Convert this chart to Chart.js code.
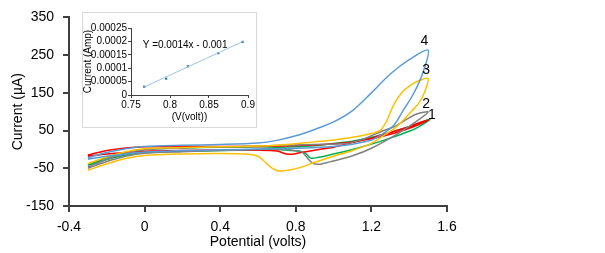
<!DOCTYPE html>
<html lang="en">
<head>
    <meta charset="UTF-8">
    <title>Cyclic voltammograms</title>
    <script src="https://cdnjs.cloudflare.com/ajax/libs/Chart.js/4.4.1/chart.umd.min.js"></script>
    <style>
        body { margin: 0; background: #fff; }
        .wrap { position: relative; width: 605px; height: 253px; }
        #mainChart { position: absolute; left: 0; top: 0; }
        .inset {
            position: absolute; left: 82px; top: 12px;
            width: 175px; height: 116px;
            box-sizing: border-box;
            border: 1px solid #d9d9d9;
            background: #fff;
        }
        #insetChart { position: absolute; left: 0; top: 0; }
    </style>
</head>
<body>
    <div class="wrap">
        <canvas id="mainChart" width="605" height="253"></canvas>
        <div class="inset">
            <canvas id="insetChart" width="173" height="114"></canvas>
        </div>
    </div>

    <script>
        // main plot: potential (V) vs current (uA), each curve is one closed sweep
        const blueV = [-0.3, -0.2, -0.1, 0, 0.2, 0.4, 0.6, 0.7, 0.8, 0.9, 1.0, 1.1, 1.2, 1.3, 1.4, 1.5,
            1.47, 1.42, 1.37, 1.32, 1.25, 1.2, 1.1, 1.0, 0.8, 0.6, 0.4, 0.2, 0, -0.1, -0.2, -0.3];
        const blueI = [-22, -8, 2, 8, 11, 13, 17, 24, 36, 53, 73, 103, 150, 200, 238, 263,
            200, 145, 105, 65, 38, 25, 14, 8, 3, 1, -1, -3, -7, -12, -18, -26];

        const yellowV = [-0.3, -0.2, -0.1, 0, 0.2, 0.4, 0.6, 0.7, 0.8, 0.9, 1.0, 1.1, 1.2, 1.25, 1.28, 1.32, 1.36, 1.4, 1.45, 1.5,
            1.48, 1.45, 1.41, 1.37, 1.32, 1.25, 1.2, 1.1, 1.0, 0.9, 0.83, 0.76, 0.71, 0.67, 0.63, 0.6, 0.55, 0.4, 0.2, 0, -0.1, -0.2, -0.3];
        const yellowI = [-38, -20, -6, 2, 5, 7, 9, 11, 15, 20, 25, 32, 42, 52, 75, 120, 150, 168, 182, 188,
            150, 122, 100, 78, 55, 32, 16, -3, -18, -34, -47, -55, -57, -48, -30, -18, -13, -11, -12, -16, -24, -38, -55];

        const grayV = [-0.3, -0.2, -0.1, 0, 0.2, 0.4, 0.6, 0.72, 0.9, 1.07, 1.15, 1.25, 1.32, 1.39, 1.44, 1.5,
            1.44, 1.34, 1.2, 1.1, 0.98, 0.93, 0.89, 0.86, 0.83, 0.78, 0.72, 0.6, 0.4, 0.2, 0, -0.1, -0.2, -0.3];
        const grayI = [-46, -26, -10, -1, 4, 7, 9, 11, 13, 16, 26, 47, 60, 81, 94, 99,
            75, 42, 3, -17, -33, -39, -37, -22, -6, -2, 1, 0, -3, -6, -10, -18, -32, -50];

        const redV = [-0.3, -0.2, -0.1, 0, 0.2, 0.4, 0.6, 0.72, 0.9, 1.0, 1.1, 1.2, 1.3, 1.4, 1.5,
            1.45, 1.4, 1.3, 1.25, 1.2, 1.1, 1.0, 0.9, 0.82, 0.79, 0.76, 0.73, 0.7, 0.6, 0.4, 0.2, 0, -0.1, -0.2, -0.3];
        const redI = [-15, -3, 4, 7, 8, 8, 8, 9, 12, 15, 20, 28, 40, 56, 78,
            70, 60, 45, 38, 30, 18, 6, -2, -9, -12, -13, -9, -4, -2, -2, -3, -5, -8, -12, -18];

        const greenV = [-0.3, -0.2, -0.1, 0, 0.2, 0.4, 0.6, 0.72, 0.9, 1.0, 1.1, 1.2, 1.3, 1.4, 1.51,
            1.45, 1.4, 1.3, 1.2, 1.1, 1.0, 0.92, 0.88, 0.85, 0.82, 0.78, 0.72, 0.6, 0.4, 0.2, 0, -0.1, -0.2, -0.3];
        const greenI = [-40, -22, -8, 0, 4, 6, 7, 6, 10, 16, 22, 32, 45, 60, 80,
            60, 48, 30, 14, 0, -12, -21, -23, -10, -5, -3, -1, -1, -3, -5, -8, -15, -27, -42];

        // curve numbers written next to the right end of the sweeps
        const curveLabels = ['4', '3', '2', '1'];
        const labelV = [1.481, 1.49, 1.49, 1.52];
        const labelI = [288, 210, 120, 91];

        // inset: peak current vs peak potential
        const insetV = [0.767, 0.795, 0.823, 0.862, 0.893];
        const insetI = [0.000031, 0.000061, 0.000107, 0.000156, 0.000198];
        const trendV = [0.767, 0.893];
        const trendI = [0.000030, 0.000199];
        const equationText = 'Y =0.0014x - 0.001';

        const FONT = "'Liberation Sans', Arial, sans-serif";
        const AXIS = '#404040';

        function pts(xs, ys) {
            return xs.map((x, i) => ({ x: x, y: ys[i] }));
        }

        function sweep(xs, ys, color) {
            return {
                data: pts(xs, ys),
                showLine: true,
                borderColor: color,
                borderWidth: 1.5,
                pointRadius: 0,
                tension: 0.3,
                fill: false
            };
        }

        const curveNumbers = {
            id: 'curveNumbers',
            afterDatasetsDraw(chart) {
                const { ctx, scales: { x, y } } = chart;
                ctx.save();
                ctx.fillStyle = '#000';
                ctx.font = '14px ' + FONT;
                ctx.textAlign = 'center';
                ctx.textBaseline = 'middle';
                curveLabels.forEach((t, i) => {
                    ctx.fillText(t, x.getPixelForValue(labelV[i]), y.getPixelForValue(labelI[i]));
                });
                ctx.restore();
            }
        };

        new Chart(document.getElementById('mainChart'), {
            type: 'scatter',
            data: {
                datasets: [
                    sweep(blueV, blueI, '#5b9bd5'),
                    sweep(yellowV, yellowI, '#ffc000'),
                    sweep(grayV, grayI, '#808080'),
                    sweep(redV, redI, '#ff0000'),
                    sweep(greenV, greenI, '#00b050')
                ]
            },
            options: {
                responsive: false,
                animation: false,
                layout: { padding: { left: 0, right: 158, top: 13, bottom: 0 } },
                plugins: { legend: { display: false }, tooltip: { enabled: false } },
                scales: {
                    x: {
                        type: 'linear',
                        min: -0.4,
                        max: 1.6,
                        afterFit: s => { s.height = 47; },
                        ticks: {
                            stepSize: 0.4,
                            autoSkip: false,
                            padding: 7,
                            color: '#000',
                            font: { family: FONT, size: 14 },
                            callback: v => String(Math.round(v * 10) / 10)
                        },
                        grid: { drawOnChartArea: false, drawTicks: true, tickLength: 6, color: AXIS, lineWidth: 2 },
                        border: { display: true, color: AXIS, width: 2 },
                        title: {
                            display: true,
                            text: 'Potential (volts)',
                            color: '#000',
                            font: { family: FONT, size: 14 },
                            padding: { top: 0, bottom: 2 }
                        }
                    },
                    y: {
                        min: -150,
                        max: 350,
                        afterFit: s => { s.width = 69; },
                        ticks: {
                            stepSize: 100,
                            autoSkip: false,
                            padding: 9,
                            color: '#000',
                            font: { family: FONT, size: 14 }
                        },
                        grid: { drawOnChartArea: false, drawTicks: true, tickLength: 6, color: AXIS, lineWidth: 2 },
                        border: { display: true, color: AXIS, width: 2 },
                        title: {
                            display: true,
                            text: 'Current (µA)',
                            color: '#000',
                            font: { family: FONT, size: 14 },
                            padding: { top: 10, bottom: 0 }
                        }
                    }
                }
            },
            plugins: [curveNumbers]
        });

        const equationLabel = {
            id: 'equationLabel',
            afterDatasetsDraw(chart) {
                const { ctx, scales: { x, y } } = chart;
                ctx.save();
                ctx.fillStyle = '#000';
                ctx.font = '10px ' + FONT;
                ctx.textAlign = 'left';
                ctx.textBaseline = 'middle';
                ctx.fillText(equationText, x.getPixelForValue(0.765), y.getPixelForValue(0.000187));
                ctx.restore();
            }
        };

        new Chart(document.getElementById('insetChart'), {
            type: 'scatter',
            data: {
                datasets: [{
                    data: pts(trendV, trendI),
                    showLine: true,
                    borderColor: '#9dc3e6',
                    borderWidth: 1,
                    pointRadius: 0
                }, {
                    data: pts(insetV, insetI),
                    showLine: false,
                    pointRadius: 1.6,
                    pointStyle: 'rect',
                    backgroundColor: '#2e75b6',
                    borderColor: '#2e75b6',
                    borderWidth: 0
                }]
            },
            options: {
                responsive: false,
                animation: false,
                layout: { padding: { left: 0, right: 8, top: 15, bottom: 0 } },
                plugins: { legend: { display: false }, tooltip: { enabled: false } },
                scales: {
                    x: {
                        type: 'linear',
                        min: 0.75,
                        max: 0.9,
                        afterFit: s => { s.height = 32; },
                        ticks: {
                            stepSize: 0.05,
                            autoSkip: false,
                            maxRotation: 0,
                            padding: 1,
                            color: '#000',
                            font: { family: FONT, size: 10 },
                            callback: v => String(+v.toFixed(2))
                        },
                        grid: { drawOnChartArea: false, drawTicks: true, tickLength: 3, color: AXIS, lineWidth: 1 },
                        border: { display: true, color: AXIS, width: 1 },
                        title: {
                            display: true,
                            text: '(V(volt))',
                            color: '#000',
                            font: { family: FONT, size: 10, lineHeight: 1 },
                            padding: { top: 0, bottom: 5 }
                        }
                    },
                    y: {
                        min: 0,
                        max: 0.00025,
                        afterFit: s => { s.width = 48; },
                        ticks: {
                            stepSize: 0.00005,
                            autoSkip: false,
                            padding: 1,
                            color: '#000',
                            font: { family: FONT, size: 10 },
                            callback: v => String(+v.toFixed(5))
                        },
                        grid: { drawOnChartArea: false, drawTicks: true, tickLength: 3, color: AXIS, lineWidth: 1 },
                        border: { display: true, color: AXIS, width: 1 },
                        title: {
                            display: true,
                            text: 'Current (Amp)',
                            color: '#000',
                            font: { family: FONT, size: 10, lineHeight: 1 },
                            padding: { top: 0, bottom: 0 }
                        }
                    }
                }
            },
            plugins: [equationLabel]
        });
    </script>
</body>
</html>
